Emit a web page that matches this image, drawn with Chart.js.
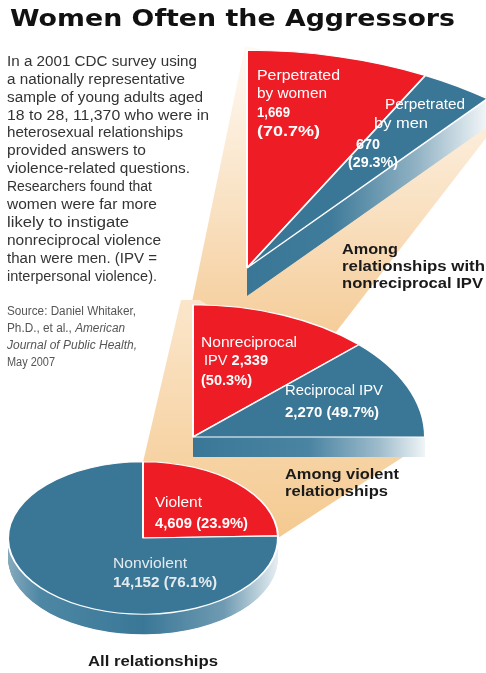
<!DOCTYPE html>
<html>
<head>
<meta charset="utf-8">
<script src="https://cdn.jsdelivr.net/npm/chart.js@4.4.1/dist/chart.umd.min.js"></script>
<style>
  html, body { margin: 0; padding: 0; background: #fff; width: 486px; height: 673px; overflow: hidden; }
  #stage { position: relative; width: 486px; height: 673px; }
  #stage canvas, #stage svg { position: absolute; left: 0; top: 0; }
  .t { position: absolute; white-space: nowrap; line-height: 1; transform-origin: 0 0;
       font-family: "Liberation Sans Narrow", "Liberation Sans", Arial, sans-serif; }
</style>
</head>
<body>
<div id="stage">
  <svg width="486" height="673">
    <defs>
      <linearGradient id="beamTop" gradientUnits="userSpaceOnUse" x1="0" y1="338" x2="0" y2="46">
        <stop offset="0" stop-color="#f5cc98"/>
        <stop offset="0.45" stop-color="#f9e1c2"/>
        <stop offset="1" stop-color="#fffaf4"/>
      </linearGradient>
      <linearGradient id="beamLow" gradientUnits="userSpaceOnUse" x1="0" y1="540" x2="0" y2="300">
        <stop offset="0" stop-color="#f4c98f"/>
        <stop offset="1" stop-color="#fbe6cb"/>
      </linearGradient>
    </defs>
    <polygon points="192,302 245,46 486,96 486,138 336,332" fill="url(#beamTop)"/>
    <polygon points="143,462 181,300 200,300 420,446 278,538" fill="url(#beamLow)"/>
  </svg>
  <canvas id="topPie" width="486" height="673"></canvas>
  <canvas id="midPie" width="486" height="673"></canvas>
  <canvas id="allPie" width="486" height="673"></canvas>
  <div id="texts"></div>
</div>
<script>
// all relationships
const allLabels = ['Violent', 'Nonviolent'];
const allValues = [4609, 14152];
const allPct = [23.9, 76.1];
// among violent relationships
const violentLabels = ['Nonreciprocal IPV', 'Reciprocal IPV'];
const violentValues = [2339, 2270];
const violentPct = [50.3, 49.7];
// among relationships with nonreciprocal IPV
const nonrecLabels = ['Perpetrated by women', 'Perpetrated by men'];
const nonrecValues = [1669, 670];
const nonrecPct = [70.7, 29.3];

const sliceColors = ['#ee1c25', '#3a7797'];

// squash the pie into a tilted disc and give it a side face
function tiltPlugin(cfg) {
  return {
    id: 'tilt',
    beforeDatasetsDraw(chart) {
      const ctx = chart.ctx;
      const arcs = chart.getDatasetMeta(0).data;
      const a0 = arcs[0];
      ctx.save();
      ctx.translate(cfg.x, cfg.y);
      ctx.scale(1, cfg.s);
      ctx.translate(-a0.x, -a0.y);
      const R = a0.outerRadius;
      const x0 = cfg.span >= 360 ? a0.x - R : a0.x;
      const x1 = cfg.span >= 360 ? a0.x + R : a0.x + R * Math.sin(Math.min(cfg.span, 90) * Math.PI / 180);
      const g = ctx.createLinearGradient(x0, 0, x1, 0);
      cfg.side.forEach(st => g.addColorStop(st[0], st[1]));
      ctx.fillStyle = g;
      for (let k = cfg.depth; k > 0; k -= 0.5) {
        const dy = k / cfg.s;
        arcs.forEach(a => {
          ctx.beginPath();
          ctx.moveTo(a.x, a.y + dy);
          ctx.arc(a.x, a.y + dy, a.outerRadius, a.startAngle, a.endAngle);
          ctx.closePath();
          ctx.fill();
        });
      }
    },
    afterDatasetsDraw(chart) {
      chart.ctx.restore();
    }
  };
}

function makePie(id, labels, values, cfg) {
  return new Chart(document.getElementById(id), {
    type: 'pie',
    data: {
      labels: labels,
      datasets: [{
        data: values,
        backgroundColor: sliceColors,
        borderColor: '#ffffff',
        borderWidth: 2,
        radius: cfg.r,
        rotation: 0,
        circumference: cfg.span,
        clip: false
      }]
    },
    options: {
      responsive: false,
      animation: false,
      events: [],
      plugins: { legend: { display: false }, tooltip: { enabled: false } }
    },
    plugins: [tiltPlugin(cfg)]
  });
}

makePie('topPie', nonrecLabels, nonrecValues, {
  x: 247, y: 268, s: 0.57, r: 382, span: 39, depth: 28,
  side: [[0, '#3a7797'], [0.35, '#3f7b9a'], [0.7, '#8fb1c3'], [1, '#f2f6f8']]
});
makePie('midPie', violentLabels, violentValues, {
  x: 193, y: 437, s: 0.57, r: 232, span: 90, depth: 20,
  side: [[0, '#3a7797'], [0.5, '#4a84a2'], [0.8, '#9dbbcb'], [1, '#f0f5f7']]
});
makePie('allPie', allLabels, allValues, {
  x: 143, y: 538, s: 0.565, r: 135, span: 360, depth: 20,
  side: [[0, '#86aabd'], [0.12, '#4d87a4'], [0.5, '#3a7797'], [0.8, '#6f9bb2'], [1, '#e6eef2']]
});

// text
const fmt = v => v.toLocaleString('en-US');
const box = document.getElementById('texts');
function put(html, x, capTop, right, size, o) {
  o = o || {};
  const el = document.createElement('div');
  el.className = 't';
  el.innerHTML = html;
  el.style.left = x + 'px';
  el.style.top = (capTop - 0.13 * size) + 'px';
  el.style.fontSize = size + 'px';
  el.style.color = o.color || '#fff';
  if (o.bold) el.style.fontWeight = 'bold';
  if (o.italic) el.style.fontStyle = 'italic';
  if (o.family) el.style.fontFamily = o.family;
  box.appendChild(el);
  const w = el.getBoundingClientRect().width;
  el.style.transform = 'scaleX(' + ((right - x) / w) + ')';
}

put('Women Often the Aggressors', 10, 10, 455, 23,
  { bold: true, color: '#111', family: '"DejaVu Sans", sans-serif' });

const intro = [
  ['In a 2001 CDC survey using', 197],
  ['a nationally representative', 185],
  ['sample of young adults aged', 203],
  ['18 to 28, 11,370 who were in', 209],
  ['heterosexual relationships', 183],
  ['provided answers to', 146],
  ['violence-related questions.', 190],
  ['Researchers found that', 152],
  ['women were far more', 157],
  ['likely to instigate', 129],
  ['nonreciprocal violence', 161],
  ['than were men. (IPV =', 157],
  ['interpersonal violence).', 157]
];
intro.forEach((l, i) => put(l[0], 7, 55.7 + i * 17.9, l[1], 14, { color: '#333' }));

put('Source: Daniel Whitaker,', 7, 307, 136, 12, { color: '#555' });
put('Ph.D., et al., <i>American</i>', 7, 324, 125, 12, { color: '#555' });
put('<i>Journal of Public Health,</i>', 7, 341, 137, 12, { color: '#555' });
put('May 2007', 7, 358, 55, 12, { color: '#555' });

// captions
put('Among', 342, 243, 398, 15, { bold: true, color: '#1a1a1a' });
put('relationships with', 342, 260, 485, 15, { bold: true, color: '#1a1a1a' });
put('nonreciprocal IPV', 342, 277, 483, 15, { bold: true, color: '#1a1a1a' });
put('Among violent', 285, 468, 399, 15, { bold: true, color: '#1a1a1a' });
put('relationships', 285, 485, 388, 15, { bold: true, color: '#1a1a1a' });
put('All relationships', 88, 655, 218, 15, { bold: true, color: '#1a1a1a' });

// slice labels
put('Perpetrated', 257, 70, 340, 14.5);
put('by women', 257, 88, 327, 14.5);
put(fmt(nonrecValues[0]), 257, 107, 290, 14.5, { bold: true });
put('(' + nonrecPct[0] + '%)', 257, 126, 320, 14.5, { bold: true });
put('Perpetrated', 385, 99, 465, 14.5);
put('by men', 374, 118, 428, 14.5);
put(fmt(nonrecValues[1]), 356, 139, 380, 14.5, { bold: true });
put('(' + nonrecPct[1] + '%)', 348, 157, 398, 14.5, { bold: true });

put('Nonreciprocal', 201, 337, 297, 14.5);
put('IPV <b>' + fmt(violentValues[0]) + '</b>', 204, 355, 268, 14.5);
put('(' + violentPct[0] + '%)', 201, 375, 252, 14.5, { bold: true });
put('Reciprocal IPV', 285, 385, 383, 14.5);
put(fmt(violentValues[1]) + ' (' + violentPct[1] + '%)', 285, 407, 379, 14.5, { bold: true });

put('Violent', 155, 497, 202, 14.5);
put(fmt(allValues[0]) + ' (' + allPct[0] + '%)', 155, 518, 248, 14.5, { bold: true });
put('Nonviolent', 113, 558, 187, 14.5, { color: '#e4ebef' });
put(fmt(allValues[1]) + ' (' + allPct[1] + '%)', 113, 577, 217, 14.5, { bold: true, color: '#e4ebef' });
</script>
</body>
</html>
